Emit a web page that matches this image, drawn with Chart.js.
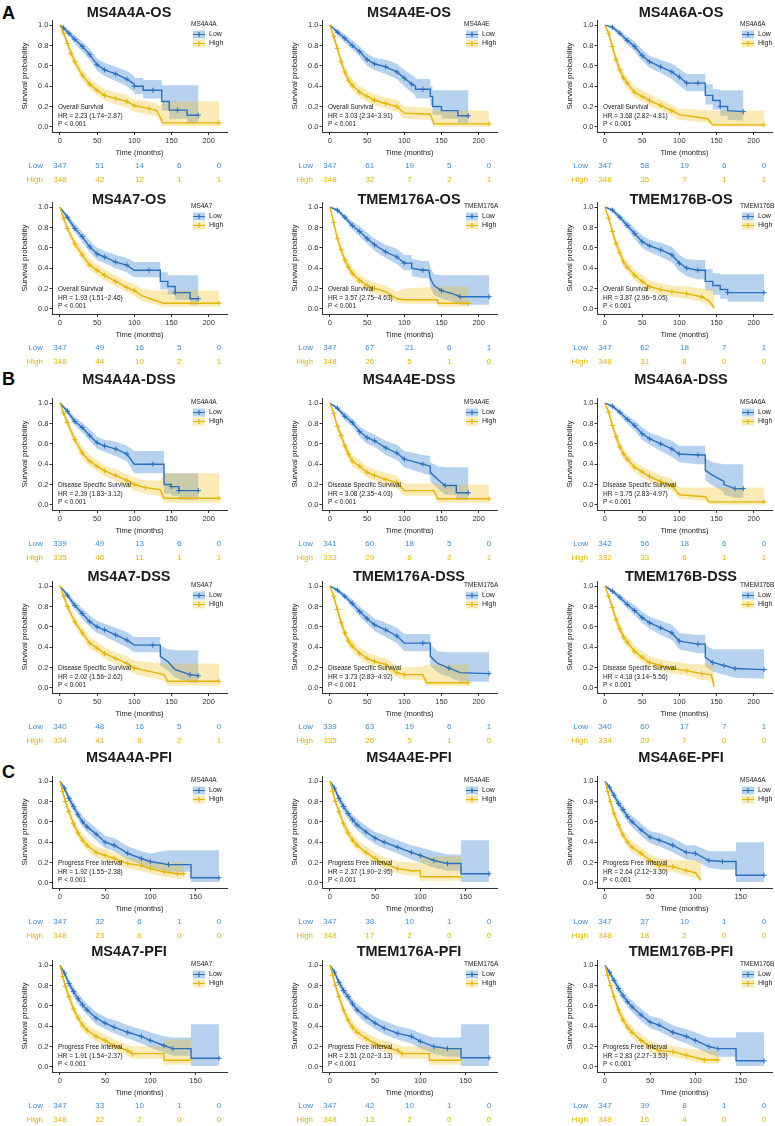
<!DOCTYPE html>
<html>
<head>
<meta charset="utf-8">
<script src="https://cdn.jsdelivr.net/npm/chart.js@4.4.1/dist/chart.umd.min.js"></script>
<style>
html, body { margin: 0; padding: 0; background: #fff; width: 775px; height: 1126px; overflow: hidden; position: relative; }
.p { position: absolute; }
.tag { position: absolute; font: bold 18px "Liberation Sans", Arial, sans-serif; line-height: 18px; color: #000; }
</style>
</head>
<body>
<div class="tag" style="left:2px;top:4px">A</div>
<div class="tag" style="left:2px;top:370px">B</div>
<div class="tag" style="left:2px;top:763px">C</div>
<script>
// each point: [time, survival, lower CI, upper CI, censor mark]
const os_MS4A4A_low = [[0,1,1,1,0],[5,.97,.95,.99,1],[12,.92,.89,.95,1],[20,.86,.82,.90,1],[30,.79,.74,.84,1],[40,.71,.66,.77,1],[50,.61,.55,.67,1],[60,.56,.50,.63,1],[75,.52,.45,.59,1],[90,.47,.40,.55,1],[100,.42,.34,.50,0],[100,.40,.32,.48,1],[112,.40,.32,.48,0],[112,.36,.28,.46,0],[125,.36,.28,.46,1],[137,.36,.28,.46,0],[137,.25,.16,.41,0],[147,.25,.16,.41,0],[147,.165,.08,.41,0],[158,.165,.08,.41,1],[171,.165,.08,.41,0],[171,.115,.04,.41,0],[186,.115,.04,.41,1]];
const os_MS4A4A_high = [[0,1,1,1,0],[5,.92,.89,.95,1],[10,.82,.78,.86,1],[15,.72,.67,.77,1],[20,.64,.59,.69,1],[30,.51,.46,.57,1],[40,.42,.37,.48,1],[50,.36,.31,.42,1],[60,.31,.26,.37,1],[75,.28,.22,.34,1],[90,.25,.19,.31,1],[100,.21,.15,.27,1],[120,.18,.12,.25,1],[130,.16,.10,.23,0],[133,.12,.07,.21,0],[136,.08,.04,.21,0],[138,.04,.01,.25,0],[214,.04,.01,.25,1]];
const os_MS4A4E_low = [[0,1,1,1,0],[10,.93,.90,.96,1],[20,.87,.83,.91,1],[30,.80,.76,.85,1],[40,.74,.69,.79,1],[50,.66,.60,.72,1],[60,.62,.56,.68,1],[75,.59,.52,.66,1],[90,.54,.47,.62,1],[100,.48,.40,.56,1],[110,.42,.34,.51,1],[115,.40,.31,.49,0],[115,.37,.28,.47,0],[125,.37,.28,.47,1],[135,.37,.28,.47,0],[135,.30,.21,.40,0],[138,.30,.21,.40,0],[138,.20,.12,.36,0],[150,.20,.12,.36,0],[150,.16,.08,.36,0],[172,.16,.08,.36,0],[172,.11,.04,.36,0],[186,.11,.04,.36,1]];
const os_MS4A4E_high = [[0,1,1,1,0],[5,.89,.86,.92,1],[10,.77,.73,.82,1],[15,.64,.59,.69,1],[20,.54,.49,.60,1],[25,.46,.41,.52,1],[30,.41,.36,.47,1],[40,.34,.29,.40,1],[50,.30,.25,.36,1],[60,.26,.21,.32,1],[75,.23,.18,.29,1],[90,.20,.15,.27,1],[100,.135,.08,.20,0],[135,.125,.07,.19,0],[140,.03,.005,.16,0],[214,.03,.005,.16,1]];
const os_MS4A6A_low = [[0,1,1,1,0],[10,.98,.96,.99,1],[20,.92,.89,.95,1],[30,.85,.81,.89,1],[40,.79,.74,.84,1],[50,.70,.65,.76,1],[60,.64,.58,.70,1],[75,.59,.53,.66,1],[90,.54,.47,.62,1],[100,.49,.41,.57,1],[110,.43,.35,.52,1],[125,.43,.35,.52,1],[135,.43,.35,.52,0],[135,.31,.22,.42,0],[145,.31,.22,.42,0],[145,.26,.17,.37,0],[155,.26,.17,.37,0],[155,.20,.11,.36,1],[165,.20,.11,.36,0],[165,.16,.07,.36,0],[186,.15,.06,.36,1]];
const os_MS4A6A_high = [[0,1,1,1,0],[5,.92,.89,.95,1],[10,.79,.75,.83,1],[15,.66,.61,.71,1],[20,.56,.51,.62,1],[25,.48,.43,.54,1],[30,.43,.38,.49,1],[40,.34,.29,.40,1],[50,.30,.25,.36,1],[60,.26,.21,.32,1],[75,.21,.16,.27,1],[90,.16,.11,.22,1],[100,.12,.07,.18,0],[138,.08,.04,.16,0],[145,.02,.005,.16,0],[214,.02,.005,.16,1]];
const os_MS4A7_low = [[0,1,1,1,0],[10,.90,.87,.93,1],[20,.79,.75,.84,1],[30,.71,.66,.76,1],[40,.61,.56,.67,1],[50,.54,.48,.60,1],[60,.51,.45,.57,1],[75,.46,.40,.53,1],[90,.43,.36,.50,1],[100,.38,.31,.46,0],[120,.38,.31,.46,1],[135,.38,.31,.46,0],[135,.27,.19,.36,0],[145,.27,.19,.36,0],[145,.22,.14,.33,0],[155,.22,.14,.33,0],[155,.16,.09,.33,1],[175,.16,.09,.33,0],[175,.10,.04,.33,0],[186,.10,.04,.33,1]];
const os_MS4A7_high = [[0,1,1,1,0],[5,.89,.86,.92,1],[10,.79,.75,.83,1],[20,.64,.59,.69,1],[30,.53,.48,.59,1],[40,.43,.38,.49,1],[50,.38,.33,.44,1],[60,.33,.28,.39,1],[75,.27,.22,.33,1],[90,.21,.16,.27,1],[100,.18,.13,.25,1],[110,.13,.08,.20,0],[125,.09,.05,.18,0],[140,.055,.02,.18,0],[214,.055,.02,.18,1]];
const os_TMEM176A_low = [[0,1,1,1,0],[10,.97,.95,.99,1],[20,.90,.87,.93,1],[30,.82,.78,.86,1],[40,.76,.71,.81,1],[50,.69,.64,.75,1],[60,.63,.57,.69,1],[75,.56,.50,.63,1],[90,.51,.44,.59,1],[100,.45,.38,.53,1],[110,.45,.38,.53,0],[110,.40,.32,.49,0],[125,.38,.30,.47,1],[133,.38,.30,.47,0],[135,.30,.21,.41,0],[140,.23,.14,.34,0],[150,.18,.10,.33,1],[165,.15,.07,.33,0],[175,.12,.04,.33,1],[214,.12,.04,.33,1]];
const os_TMEM176A_high = [[0,1,1,1,0],[5,.85,.81,.89,1],[10,.69,.64,.74,1],[15,.58,.53,.64,1],[20,.48,.43,.54,1],[25,.41,.36,.47,1],[30,.35,.30,.41,1],[40,.28,.23,.34,1],[50,.23,.18,.29,1],[60,.20,.15,.26,1],[75,.17,.12,.23,0],[90,.10,.06,.17,0],[100,.09,.05,.20,0],[145,.09,.05,.22,0],[145,.055,.02,.22,0],[186,.055,.02,.22,1]];
const os_TMEM176B_low = [[0,1,1,1,0],[10,.97,.95,.99,1],[20,.90,.87,.93,1],[30,.82,.78,.86,1],[40,.74,.69,.79,1],[50,.66,.60,.72,1],[60,.62,.56,.68,1],[75,.58,.51,.65,1],[90,.53,.46,.61,1],[100,.45,.37,.53,1],[110,.40,.32,.49,1],[125,.38,.29,.48,1],[135,.38,.29,.48,0],[135,.27,.18,.39,0],[145,.27,.18,.39,0],[145,.23,.14,.35,0],[155,.23,.14,.35,0],[155,.19,.10,.34,0],[165,.19,.10,.34,0],[165,.16,.07,.34,1],[214,.16,.07,.34,1]];
const os_TMEM176B_high = [[0,1,1,1,0],[5,.89,.86,.92,1],[10,.76,.72,.80,1],[15,.64,.59,.69,1],[20,.55,.50,.61,1],[25,.46,.41,.52,1],[30,.41,.36,.47,1],[40,.33,.28,.39,1],[50,.27,.22,.33,1],[60,.22,.17,.28,1],[75,.19,.14,.25,1],[90,.17,.12,.23,1],[110,.15,.10,.22,1],[130,.12,.07,.20,1],[140,.08,.03,.19,0],[147,.01,.002,.19,0]];

const dss_MS4A4A_low = [[0,1,1,1,0],[10,.92,.89,.95,1],[20,.82,.78,.86,1],[30,.76,.71,.81,1],[40,.68,.63,.74,1],[50,.61,.55,.67,1],[60,.58,.52,.64,1],[75,.55,.48,.62,1],[90,.50,.43,.58,1],[100,.40,.31,.53,0],[125,.40,.31,.53,1],[140,.40,.31,.53,0],[140,.20,.11,.31,0],[150,.20,.11,.31,0],[150,.18,.09,.31,1],[160,.18,.09,.31,0],[160,.14,.05,.31,1],[186,.14,.05,.31,1]];
const dss_MS4A4A_high = [[0,1,1,1,0],[5,.90,.87,.93,1],[10,.81,.77,.85,1],[20,.64,.59,.69,1],[30,.51,.46,.57,1],[40,.43,.38,.49,1],[50,.38,.33,.44,1],[60,.335,.28,.39,1],[75,.29,.23,.35,1],[90,.24,.18,.30,1],[100,.20,.14,.27,1],[115,.17,.11,.24,1],[135,.15,.09,.24,0],[140,.065,.02,.31,0],[214,.065,.02,.31,1]];
const dss_MS4A4E_low = [[0,1,1,1,0],[10,.95,.93,.97,1],[20,.87,.83,.91,1],[30,.81,.77,.85,1],[40,.72,.67,.77,1],[50,.66,.60,.72,1],[60,.63,.57,.69,1],[75,.56,.49,.63,1],[90,.51,.44,.59,1],[100,.45,.37,.53,1],[125,.40,.31,.49,1],[135,.38,.29,.48,0],[135,.32,.23,.42,0],[145,.25,.16,.38,0],[155,.19,.10,.37,1],[170,.19,.10,.37,0],[170,.12,.05,.37,0],[186,.12,.05,.37,1]];
const dss_MS4A4E_high = [[0,1,1,1,0],[5,.90,.87,.93,1],[10,.77,.73,.82,1],[15,.68,.63,.73,1],[20,.58,.53,.64,1],[25,.50,.45,.56,1],[30,.43,.38,.49,1],[40,.38,.33,.44,1],[50,.32,.27,.38,1],[60,.29,.24,.35,1],[75,.25,.19,.31,1],[90,.22,.16,.29,1],[100,.14,.09,.21,0],[140,.14,.09,.21,0],[145,.06,.02,.20,0],[214,.06,.02,.20,1]];
const dss_MS4A6A_low = [[0,1,1,1,0],[10,.97,.95,.99,1],[20,.91,.88,.94,1],[30,.84,.80,.88,1],[40,.78,.73,.83,1],[50,.70,.64,.76,1],[60,.65,.59,.71,1],[75,.60,.53,.67,1],[90,.55,.47,.63,1],[100,.50,.42,.58,1],[125,.49,.40,.58,1],[135,.49,.40,.58,0],[135,.34,.24,.46,0],[145,.29,.19,.42,0],[160,.23,.13,.40,0],[160,.20,.10,.40,0],[175,.16,.07,.40,1],[186,.16,.07,.40,1]];
const dss_MS4A6A_high = [[0,1,1,1,0],[5,.91,.88,.94,1],[10,.78,.74,.82,1],[15,.67,.62,.72,1],[20,.57,.52,.63,1],[25,.50,.45,.56,1],[30,.45,.40,.51,1],[40,.37,.32,.43,1],[50,.325,.27,.38,1],[60,.28,.23,.34,1],[75,.23,.18,.29,1],[90,.19,.14,.26,1],[100,.10,.06,.17,0],[135,.08,.04,.17,0],[140,.03,.005,.17,0],[214,.03,.005,.17,1]];
const dss_MS4A7_low = [[0,1,1,1,0],[10,.91,.88,.94,1],[20,.81,.77,.85,1],[30,.73,.68,.78,1],[40,.65,.60,.71,1],[50,.60,.54,.66,1],[60,.57,.51,.63,1],[75,.52,.45,.59,1],[90,.47,.40,.55,1],[100,.42,.35,.50,0],[125,.42,.35,.50,1],[135,.42,.35,.50,0],[135,.31,.22,.42,0],[145,.26,.17,.38,0],[155,.18,.10,.37,0],[175,.13,.05,.37,1],[186,.12,.05,.37,1]];
const dss_MS4A7_high = [[0,1,1,1,0],[5,.90,.87,.93,1],[10,.80,.76,.84,1],[20,.65,.60,.70,1],[30,.54,.49,.60,1],[40,.44,.39,.50,1],[50,.39,.34,.45,1],[60,.34,.29,.40,1],[75,.29,.23,.35,1],[90,.24,.18,.31,1],[100,.195,.14,.27,1],[110,.18,.12,.26,0],[140,.13,.07,.24,0],[145,.065,.02,.24,0],[214,.065,.02,.24,1]];
const dss_TMEM176A_low = [[0,1,1,1,0],[10,.96,.94,.98,1],[20,.90,.87,.93,1],[30,.83,.79,.87,1],[40,.75,.70,.80,1],[50,.68,.63,.74,1],[60,.62,.56,.68,1],[75,.57,.50,.64,1],[90,.51,.44,.59,1],[100,.44,.36,.53,0],[125,.44,.36,.53,1],[135,.44,.36,.53,0],[135,.31,.22,.43,0],[145,.24,.15,.36,0],[160,.195,.11,.35,1],[175,.15,.06,.35,0],[214,.14,.06,.35,1]];
const dss_TMEM176A_high = [[0,1,1,1,0],[5,.90,.87,.93,1],[10,.77,.73,.81,1],[15,.64,.59,.69,1],[20,.54,.49,.60,1],[25,.46,.41,.52,1],[30,.41,.36,.47,1],[40,.34,.29,.40,1],[50,.29,.24,.35,1],[60,.26,.21,.32,1],[75,.23,.17,.29,1],[90,.15,.10,.22,1],[100,.13,.08,.20,1],[125,.13,.08,.21,0],[130,.05,.02,.23,0],[186,.05,.02,.23,1]];
const dss_TMEM176B_low = [[0,1,1,1,0],[10,.95,.93,.97,1],[20,.89,.86,.92,1],[30,.82,.78,.86,1],[40,.76,.71,.81,1],[50,.69,.64,.75,1],[60,.64,.58,.70,1],[75,.59,.52,.66,1],[90,.54,.47,.62,1],[100,.46,.38,.54,1],[125,.43,.34,.52,1],[135,.43,.34,.52,0],[135,.30,.21,.42,0],[145,.25,.16,.38,1],[160,.22,.13,.38,1],[175,.19,.10,.38,1],[214,.18,.09,.38,1]];
const dss_TMEM176B_high = [[0,1,1,1,0],[5,.90,.87,.93,1],[10,.79,.75,.83,1],[15,.67,.62,.72,1],[20,.58,.53,.64,1],[25,.50,.45,.56,1],[30,.45,.40,.51,1],[40,.36,.31,.42,1],[50,.30,.25,.36,1],[60,.25,.20,.31,1],[75,.22,.17,.28,1],[90,.19,.14,.26,1],[110,.17,.12,.24,1],[130,.14,.08,.23,1],[143,.13,.07,.23,0],[145,.07,.02,.23,0],[147,.01,.002,.23,0]];

const pfi_MS4A4A_low = [[0,1,1,1,0],[5,.93,.90,.96,1],[10,.83,.79,.87,1],[15,.75,.70,.80,1],[20,.67,.62,.72,1],[25,.60,.55,.66,1],[30,.55,.50,.61,1],[40,.48,.42,.54,1],[50,.40,.34,.46,1],[60,.37,.31,.44,1],[75,.29,.23,.36,1],[90,.24,.18,.31,1],[100,.21,.15,.29,1],[120,.18,.11,.32,1],[145,.18,.11,.32,0],[145,.05,.01,.32,0],[176,.05,.01,.32,1]];
const pfi_MS4A4A_high = [[0,1,1,1,0],[3,.90,.87,.93,1],[6,.80,.76,.84,1],[10,.70,.65,.75,1],[15,.58,.53,.63,1],[20,.49,.44,.55,1],[25,.42,.37,.48,1],[30,.37,.32,.43,1],[40,.30,.25,.36,1],[50,.27,.22,.33,1],[60,.24,.19,.30,1],[75,.19,.14,.25,1],[90,.17,.12,.23,1],[100,.14,.09,.21,1],[115,.11,.06,.20,1],[130,.09,.04,.20,1],[137,.09,.04,.20,1]];
const pfi_MS4A4E_low = [[0,1,1,1,0],[5,.93,.90,.96,1],[10,.83,.79,.87,1],[15,.75,.70,.80,1],[20,.68,.63,.73,1],[25,.62,.57,.67,1],[30,.57,.52,.63,1],[40,.50,.44,.56,1],[50,.44,.38,.50,1],[60,.40,.34,.47,1],[75,.35,.29,.42,1],[90,.30,.23,.37,1],[100,.27,.20,.35,1],[115,.22,.15,.31,1],[130,.19,.12,.28,1],[145,.19,.12,.28,0],[145,.09,.01,.42,0],[176,.09,.01,.42,1]];
const pfi_MS4A4E_high = [[0,1,1,1,0],[3,.90,.87,.93,1],[6,.80,.76,.84,1],[10,.70,.65,.75,1],[15,.58,.53,.63,1],[20,.49,.44,.55,1],[25,.42,.37,.48,1],[30,.37,.32,.43,1],[40,.30,.25,.36,1],[50,.24,.19,.30,1],[60,.19,.14,.25,1],[75,.14,.09,.21,1],[90,.12,.07,.20,0],[100,.12,.07,.20,0],[100,.06,.02,.26,0],[145,.06,.02,.26,0]];
const pfi_MS4A6E_low = [[0,1,1,1,0],[5,.94,.91,.97,1],[10,.86,.82,.90,1],[15,.78,.73,.83,1],[20,.72,.67,.77,1],[25,.65,.60,.70,1],[30,.60,.55,.66,1],[40,.52,.46,.58,1],[50,.45,.39,.51,1],[60,.42,.36,.49,1],[75,.37,.30,.44,1],[90,.30,.23,.37,1],[100,.29,.22,.37,1],[115,.22,.15,.31,1],[130,.21,.13,.31,1],[145,.21,.13,.31,0],[145,.075,.01,.40,0],[176,.075,.01,.40,1]];
const pfi_MS4A6E_high = [[0,1,1,1,0],[3,.90,.87,.93,1],[6,.80,.76,.84,1],[10,.68,.63,.73,1],[15,.57,.52,.62,1],[20,.47,.42,.53,1],[25,.40,.35,.46,1],[30,.35,.30,.41,1],[40,.29,.24,.35,1],[50,.22,.17,.28,1],[60,.17,.12,.24,1],[75,.16,.11,.23,1],[90,.12,.07,.22,1],[100,.10,.05,.22,0],[106,.03,.005,.22,0]];
const pfi_MS4A7_low = [[0,1,1,1,0],[5,.92,.89,.95,1],[10,.82,.78,.86,1],[15,.74,.69,.79,1],[20,.67,.62,.72,1],[25,.61,.56,.67,1],[30,.56,.51,.62,1],[40,.48,.42,.54,1],[50,.43,.37,.49,1],[60,.39,.33,.46,1],[75,.34,.28,.41,1],[90,.30,.23,.37,1],[100,.26,.19,.34,1],[115,.21,.14,.30,1],[125,.18,.11,.29,1],[145,.18,.11,.29,0],[145,.085,.01,.42,0],[176,.085,.01,.42,1]];
const pfi_MS4A7_high = [[0,1,1,1,0],[3,.89,.86,.92,1],[6,.79,.75,.83,1],[10,.69,.64,.74,1],[15,.57,.52,.62,1],[20,.48,.43,.54,1],[25,.41,.36,.47,1],[30,.36,.31,.42,1],[40,.30,.25,.36,1],[50,.26,.21,.32,1],[60,.21,.16,.27,1],[75,.16,.11,.22,1],[80,.13,.08,.20,1],[115,.13,.08,.20,0],[115,.065,.02,.27,0],[145,.065,.02,.27,0]];
const pfi_TMEM176A_low = [[0,1,1,1,0],[5,.93,.90,.96,1],[10,.83,.79,.87,1],[15,.75,.70,.80,1],[20,.69,.64,.74,1],[25,.62,.57,.67,1],[30,.56,.51,.62,1],[40,.49,.43,.55,1],[50,.43,.37,.49,1],[60,.38,.32,.45,1],[75,.33,.27,.40,1],[90,.30,.23,.37,1],[100,.25,.18,.33,1],[115,.20,.13,.29,1],[130,.18,.10,.29,1],[145,.18,.10,.29,0],[145,.09,.01,.42,0],[176,.09,.01,.42,1]];
const pfi_TMEM176A_high = [[0,1,1,1,0],[3,.90,.87,.93,1],[6,.80,.76,.84,1],[10,.69,.64,.74,1],[15,.56,.51,.61,1],[20,.46,.41,.52,1],[25,.39,.34,.45,1],[30,.34,.29,.40,1],[40,.28,.23,.34,1],[50,.23,.18,.29,1],[60,.20,.15,.26,1],[75,.16,.11,.22,1],[80,.13,.08,.20,1],[110,.13,.08,.20,0],[110,.065,.02,.19,0],[145,.065,.02,.19,0]];
const pfi_TMEM176B_low = [[0,1,1,1,0],[5,.93,.90,.96,1],[10,.85,.81,.89,1],[15,.77,.72,.82,1],[20,.70,.65,.75,1],[25,.64,.59,.69,1],[30,.59,.54,.65,1],[40,.51,.45,.57,1],[50,.44,.38,.50,1],[60,.41,.35,.48,1],[75,.34,.28,.41,1],[90,.30,.23,.37,1],[100,.26,.19,.34,1],[115,.20,.13,.29,1],[125,.18,.10,.29,1],[145,.18,.10,.29,0],[145,.06,.01,.34,0],[176,.06,.01,.34,1]];
const pfi_TMEM176B_high = [[0,1,1,1,0],[3,.90,.87,.93,1],[6,.80,.76,.84,1],[10,.69,.64,.74,1],[15,.56,.51,.61,1],[20,.46,.41,.52,1],[25,.39,.34,.45,1],[30,.34,.29,.40,1],[40,.26,.21,.32,1],[50,.20,.15,.26,1],[60,.16,.11,.22,1],[75,.15,.10,.21,1],[90,.115,.07,.18,1],[110,.07,.03,.16,1],[125,.07,.03,.16,1]];

const lowCurves = [os_MS4A4A_low, os_MS4A4E_low, os_MS4A6A_low, os_MS4A7_low, os_TMEM176A_low, os_TMEM176B_low,
  dss_MS4A4A_low, dss_MS4A4E_low, dss_MS4A6A_low, dss_MS4A7_low, dss_TMEM176A_low, dss_TMEM176B_low,
  pfi_MS4A4A_low, pfi_MS4A4E_low, pfi_MS4A6E_low, pfi_MS4A7_low, pfi_TMEM176A_low, pfi_TMEM176B_low];
const highCurves = [os_MS4A4A_high, os_MS4A4E_high, os_MS4A6A_high, os_MS4A7_high, os_TMEM176A_high, os_TMEM176B_high,
  dss_MS4A4A_high, dss_MS4A4E_high, dss_MS4A6A_high, dss_MS4A7_high, dss_TMEM176A_high, dss_TMEM176B_high,
  pfi_MS4A4A_high, pfi_MS4A4E_high, pfi_MS4A6E_high, pfi_MS4A7_high, pfi_TMEM176A_high, pfi_TMEM176B_high];

const titles = ['MS4A4A-OS', 'MS4A4E-OS', 'MS4A6A-OS', 'MS4A7-OS', 'TMEM176A-OS', 'TMEM176B-OS',
  'MS4A4A-DSS', 'MS4A4E-DSS', 'MS4A6A-DSS', 'MS4A7-DSS', 'TMEM176A-DSS', 'TMEM176B-DSS',
  'MS4A4A-PFI', 'MS4A4E-PFI', 'MS4A6E-PFI', 'MS4A7-PFI', 'TMEM176A-PFI', 'TMEM176B-PFI'];
const genes = ['MS4A4A', 'MS4A4E', 'MS4A6A', 'MS4A7', 'TMEM176A', 'TMEM176B'];
const endpoints = ['Overall Survival', 'Disease Specific Survival', 'Progress Free Interval'];
const hrTexts = ['2.23 (1.74\u22122.87)', '3.03 (2.34\u22123.91)', '3.68 (2.82\u22124.81)', '1.93 (1.51\u22122.46)', '3.57 (2.75\u22124.63)', '3.87 (2.96\u22125.05)',
  '2.39 (1.83\u22123.12)', '3.08 (2.35\u22124.03)', '3.75 (2.83\u22124.97)', '2.02 (1.56\u22122.62)', '3.73 (2.83\u22124.92)', '4.18 (3.14\u22125.56)',
  '1.92 (1.55\u22122.38)', '2.37 (1.90\u22122.95)', '2.64 (2.12\u22123.30)', '1.91 (1.54\u22122.37)', '2.51 (2.02\u22123.13)', '2.83 (2.27\u22123.53)'];
const riskLow = [[347,51,14,6,0],[347,61,19,5,0],[347,58,19,6,0],[347,49,16,5,0],[347,67,21,6,1],[347,62,18,7,1],
  [339,49,13,6,0],[341,60,18,5,0],[342,56,18,6,0],[340,48,16,5,0],[339,63,19,6,1],[340,60,17,7,1],
  [347,32,6,1,0],[347,38,10,1,0],[347,37,10,1,0],[347,33,10,1,0],[347,42,10,1,0],[347,39,8,1,0]];
const riskHigh = [[348,42,12,1,1],[348,32,7,2,1],[348,35,7,1,1],[348,44,10,2,1],[348,26,5,1,0],[348,31,8,0,0],
  [335,40,11,1,1],[333,29,6,2,1],[332,33,6,1,1],[334,41,8,2,1],[335,26,5,1,0],[334,29,7,0,0],
  [348,23,6,0,0],[348,17,2,0,0],[348,18,2,0,0],[348,22,2,0,0],[348,13,2,0,0],[348,16,4,0,0]];
// times (months) at which the number-at-risk columns are printed
const riskTimesLong = [0, 53.5, 107, 160.5, 214];
const riskTimesPfi = [0, 44, 88, 132, 176];
const xTicksLong = [0, 50, 100, 150, 200];
const xTicksPfi = [0, 50, 100, 150];
const yTicks = [0, 0.2, 0.4, 0.6, 0.8, 1.0];

// layout
const colAxis = [52, 322, 597];
const plotTop = [20, 202, 398, 581, 776, 960];
const titleDy = [-7, -2, -18, -4, -18, -8];
const titleDx = [77, 87, 84];
const legendDx = [139, 142, 143];

const blue = '#2a6fc0', yellow = '#e6b400';
const blueBand = 'rgba(64,136,212,0.38)', yellowBand = 'rgba(240,192,30,0.33)';
const blueText = '#3a8ed6', yellowText = '#e3b300';
const FONT = '"Liberation Sans", Arial, sans-serif';

function band(c) {
  const up = c.map(p => ({x: p[0], y: p[3]}));
  const dn = c.slice().reverse().map(p => ({x: p[0], y: p[2]}));
  return up.concat(dn);
}
function curve(c) { return c.map(p => ({x: p[0], y: p[1]})); }
function marks(c) { return c.map(p => p[4] ? 2.6 : 0); }

function drawPanel(i) {
  const row = Math.floor(i / 3), col = i % 3;
  const pfi = row >= 4;
  const xt = pfi ? xTicksPfi : xTicksLong;
  const rt = pfi ? riskTimesPfi : riskTimesLong;
  const cv = document.createElement('canvas');
  cv.width = 232; cv.height = 199;
  cv.className = 'p';
  cv.style.left = (colAxis[col] - 52) + 'px';
  cv.style.top = (plotTop[row] - 28) + 'px';
  document.body.appendChild(cv);

  const low = lowCurves[i], high = highCurves[i];
  const gene = genes[(row % 2) * 3 + col];

  const deco = {
    id: 'deco',
    afterDraw(chart) {
      const ctx = chart.ctx, a = chart.chartArea;
      const xs = chart.scales.x, ys = chart.scales.y;
      ctx.save();
      // title
      ctx.fillStyle = '#1a1a1a';
      ctx.font = 'bold 14.5px ' + FONT;
      ctx.textAlign = 'center';
      ctx.textBaseline = 'middle';
      ctx.fillText(titles[i], a.left + titleDx[col], a.top + titleDy[row]);

      // legend
      const lx = a.left + legendDx[col];
      ctx.textAlign = 'left';
      ctx.font = '6.5px ' + FONT;
      ctx.fillStyle = '#222';
      ctx.fillText(gene, lx, a.top + 4.5);
      [['Low', blue, blueBand, 14.5], ['High', yellow, yellowBand, 23.5]].forEach(k => {
        const y = a.top + k[3];
        ctx.fillStyle = k[2];
        ctx.fillRect(lx + 2, y - 4, 12, 8);
        ctx.strokeStyle = k[1];
        ctx.lineWidth = 1.2;
        ctx.beginPath();
        ctx.moveTo(lx + 2, y); ctx.lineTo(lx + 14, y);
        ctx.moveTo(lx + 8, y - 2.5); ctx.lineTo(lx + 8, y + 2.5);
        ctx.stroke();
        ctx.fillStyle = '#222';
        ctx.font = '7px ' + FONT;
        ctx.fillText(k[0], lx + 18, y);
      });

      // annotation
      ctx.font = '6.5px ' + FONT;
      ctx.fillStyle = '#1a1a1a';
      const ax = a.left + 6;
      ctx.fillText(endpoints[Math.floor(row / 2)], ax, ys.getPixelForValue(0.195));
      ctx.fillText('HR = ' + hrTexts[i], ax, ys.getPixelForValue(0.11));
      ctx.fillText('P < 0.001', ax, ys.getPixelForValue(0.025));

      // number at risk
      ctx.font = '8px ' + FONT;
      [[riskLow[i], blueText, 'Low', 34], [riskHigh[i], yellowText, 'High', 48]].forEach(r => {
        const y = a.bottom + r[3];
        ctx.fillStyle = r[1];
        ctx.textAlign = 'right';
        ctx.fillText(r[2], a.left - 9, y);
        ctx.textAlign = 'center';
        r[0].forEach((n, j) => ctx.fillText(String(n), xs.getPixelForValue(rt[j]), y));
      });
      ctx.restore();
    }
  };

  new Chart(cv, {
    type: 'line',
    data: {
      datasets: [
        {data: band(low), fill: 'shape', backgroundColor: blueBand, borderColor: 'rgba(0,0,0,0)', borderWidth: 0, pointRadius: 0, order: 3},
        {data: band(high), fill: 'shape', backgroundColor: yellowBand, borderColor: 'rgba(0,0,0,0)', borderWidth: 0, pointRadius: 0, order: 2},
        {data: curve(low), borderColor: blue, borderWidth: 1.4, fill: false, pointRadius: marks(low), pointStyle: 'cross',
          pointBorderColor: blue, pointBorderWidth: 1, order: 1},
        {data: curve(high), borderColor: yellow, borderWidth: 1.4, fill: false, pointRadius: marks(high), pointStyle: 'cross',
          pointBorderColor: yellow, pointBorderWidth: 1, order: 0}
      ]
    },
    options: {
      responsive: false,
      animation: false,
      events: [],
      layout: {padding: {top: 28, bottom: 34, left: 0, right: 4}},
      elements: {line: {tension: 0}},
      plugins: {legend: {display: false}, tooltip: {enabled: false}},
      scales: {
        x: {
          type: 'linear',
          min: pfi ? -8.8 : -10.7,
          max: pfi ? 184.8 : 224.7,
          afterBuildTicks: s => { s.ticks = xt.map(v => ({value: v})); },
          afterFit: s => { s.height = 25; },
          ticks: {font: {family: FONT, size: 7.5}, color: '#333', padding: 1, maxRotation: 0, autoSkip: false},
          grid: {display: true, drawOnChartArea: false, drawTicks: true, tickLength: 3, color: '#333'},
          border: {display: true, color: '#333', width: 1},
          title: {display: true, text: 'Time (months)', font: {family: FONT, size: 7.5}, color: '#222', padding: {top: 0, bottom: 0}}
        },
        y: {
          min: -0.05,
          max: 1.05,
          afterBuildTicks: s => { s.ticks = yTicks.map(v => ({value: v})); },
          afterFit: s => { s.width = 52; },
          ticks: {font: {family: FONT, size: 7.5}, color: '#333', padding: 1, callback: v => Number(v).toFixed(1)},
          grid: {display: true, drawOnChartArea: false, drawTicks: true, tickLength: 2.5, color: '#333'},
          border: {display: true, color: '#333', width: 1},
          title: {display: true, text: 'Survival probability', font: {family: FONT, size: 8}, color: '#222', padding: {top: 20, bottom: 0}}
        }
      }
    },
    plugins: [deco]
  });
}

for (let i = 0; i < 18; i++) drawPanel(i);
</script>
</body>
</html>
